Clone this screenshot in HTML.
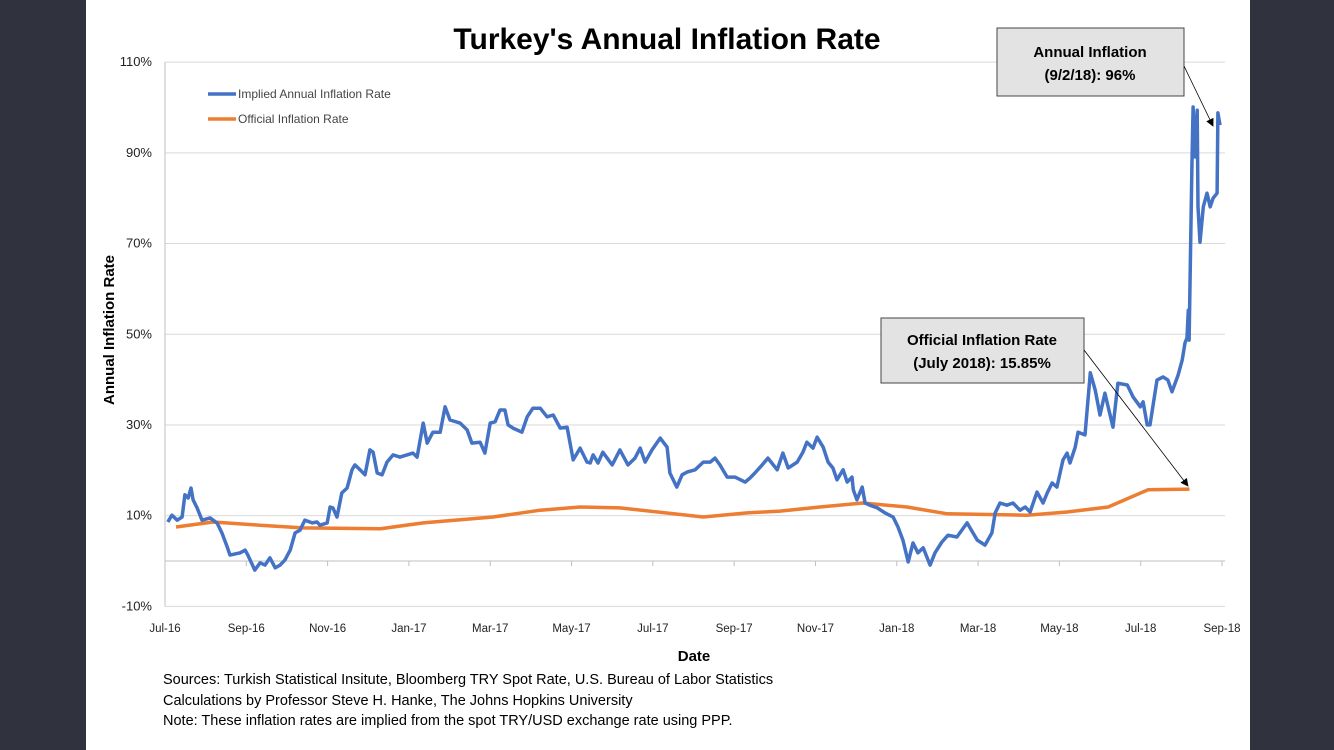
<!DOCTYPE html>
<html><head><meta charset="utf-8"><style>
html,body{margin:0;padding:0;background:#30323d;width:1334px;height:750px;overflow:hidden}
#panel{position:absolute;left:86px;top:0;width:1164px;height:750px;background:#fff}
svg{position:absolute;left:0;top:0}
text{font-family:"Liberation Sans",sans-serif}
</style></head><body>
<div id="panel"></div>
<svg id="chart" width="1334" height="750"></svg>
<script>
const xTickLabels=["Jul-16","Sep-16","Nov-16","Jan-17","Mar-17","May-17","Jul-17","Sep-17","Nov-17","Jan-18","Mar-18","May-18","Jul-18","Sep-18"];
const yTicks=[-10,10,30,50,70,90,110];
const impliedMonths=[0.07,0.17,0.30,0.42,0.49,0.57,0.64,0.69,0.79,0.91,1.11,1.28,1.40,1.53,1.60,1.85,1.97,2.04,2.21,2.34,2.46,2.58,2.71,2.83,2.95,3.08,3.20,3.32,3.44,3.62,3.74,3.81,3.99,4.06,4.13,4.23,4.35,4.48,4.60,4.67,4.80,4.92,5.04,5.12,5.22,5.34,5.46,5.61,5.78,5.95,6.10,6.20,6.35,6.45,6.59,6.77,6.89,7.01,7.26,7.43,7.55,7.75,7.87,8.00,8.12,8.24,8.36,8.44,8.56,8.78,8.91,9.05,9.23,9.40,9.55,9.72,9.89,10.04,10.21,10.38,10.46,10.53,10.65,10.77,11.00,11.19,11.39,11.56,11.69,11.81,11.98,12.18,12.35,12.42,12.59,12.72,12.84,13.04,13.24,13.41,13.53,13.65,13.83,14.02,14.27,14.39,14.51,14.69,14.83,15.06,15.20,15.33,15.55,15.69,15.79,15.94,16.04,16.19,16.31,16.43,16.53,16.68,16.78,16.90,16.93,17.02,17.15,17.22,17.34,17.52,17.71,17.91,18.03,18.15,18.28,18.40,18.52,18.65,18.82,18.94,19.11,19.26,19.48,19.73,19.98,20.17,20.34,20.42,20.54,20.71,20.86,21.03,21.16,21.28,21.45,21.60,21.70,21.82,21.94,22.09,22.19,22.26,22.39,22.46,22.63,22.76,22.88,23.00,23.12,23.32,23.44,23.67,23.81,23.99,24.06,24.16,24.23,24.40,24.55,24.67,24.77,24.92,25.02,25.09,25.14,25.17,25.19,25.26,25.29,25.34,25.39,25.41,25.46,25.54,25.63,25.71,25.78,25.88,25.90,25.95];
const impliedValues=[8.6,10.1,9.0,9.7,14.6,13.9,16.1,13.5,11.7,9.0,9.5,8.4,6.2,3.1,1.3,1.8,2.4,1.3,-2.0,-0.4,-0.9,0.7,-1.5,-0.9,0.2,2.4,6.2,6.8,9.0,8.4,8.6,7.9,8.4,11.9,11.7,9.7,15.0,16.1,20.1,21.2,20.1,19.0,24.5,24.0,19.4,19.0,21.8,23.4,22.9,23.4,23.8,22.9,30.4,26.0,28.4,28.4,34.0,31.1,30.4,28.9,26.0,26.2,23.8,30.4,30.7,33.3,33.3,30.0,29.3,28.4,31.8,33.7,33.7,31.8,32.2,29.3,29.5,22.3,24.9,21.8,21.6,23.4,21.6,24.0,21.2,24.5,21.2,22.7,24.9,21.8,24.5,27.1,25.1,19.4,16.3,19.0,19.6,20.1,21.8,21.8,22.7,21.2,18.5,18.5,17.4,18.3,19.4,21.2,22.7,20.1,23.8,20.5,21.8,24.0,26.2,24.9,27.3,25.1,21.8,20.5,17.9,20.1,17.4,18.5,15.7,13.5,16.3,12.8,12.3,11.7,10.6,9.7,7.5,4.6,-0.2,4.0,1.8,2.9,-0.9,1.8,4.2,5.7,5.3,8.4,4.6,3.5,6.2,10.6,12.8,12.3,12.8,11.2,11.9,10.8,15.2,12.8,15.0,17.2,16.3,22.3,23.8,21.6,25.1,28.4,27.8,41.5,37.7,32.2,37.0,29.5,39.2,38.8,36.2,34.0,35.1,30.0,30.0,39.9,40.6,39.9,37.3,41.0,44.3,48.1,49.2,55.3,48.7,86.9,100.1,89.1,99.4,78.1,70.3,78.1,81.1,78.1,80.0,81.1,98.8,96.1,96.1];
const officialMonths=[0.27,1.18,2.34,3.39,5.29,6.35,8.07,9.23,10.21,11.19,13.24,14.32,15.13,16.11,17.17,18.25,19.24,21.2,22.19,23.2,24.18,25.2];
const officialValues=[7.5,8.6,7.9,7.3,7.1,8.4,9.7,11.2,11.9,11.7,9.7,10.6,11.0,11.9,12.8,11.9,10.4,10.1,10.8,11.9,15.7,15.85];

const NS="http://www.w3.org/2000/svg";
const svg=document.getElementById('chart');
const X0=165,X1=1222,M0=0,M1=26,Y0=561,PPU=4.535;
const xs=m=>X0+(m-M0)/(M1-M0)*(X1-X0);
const ys=v=>Y0-v*PPU;
function el(tag,attrs,txt){const e=document.createElementNS(NS,tag);for(const k in attrs)e.setAttribute(k,attrs[k]);if(txt!==undefined)e.textContent=txt;svg.appendChild(e);return e;}
yTicks.forEach(v=>{
 const g=el('line',{x1:X0,x2:1225,y1:ys(v),y2:ys(v),stroke:'#d9d9d9','stroke-width':1});
 
 
 const t=el('text',{x:152,y:ys(v)+4,'text-anchor':'end','font-size':13,fill:'#222'},v+'%');
 
 
});
const ya=el('line',{x1:X0,x2:X0,y1:ys(110),y2:ys(-10),stroke:'#bfbfbf','stroke-width':1});


const xa=el('line',{x1:X0,x2:1225,y1:Y0,y2:Y0,stroke:'#bfbfbf','stroke-width':1});


xTickLabels.forEach((l,i)=>{
 const x=xs(i*2);
 const tk=el('line',{x1:x,x2:x,y1:Y0,y2:Y0+5,stroke:'#bfbfbf'});
 
 
 const t=el('text',{x:x,y:632,'text-anchor':'middle','font-size':11.5,fill:'#222'},l);
 
 
});
function line(ms,vs,color,name){
 const d=ms.map((m,i)=>(i?'L':'M')+xs(m).toFixed(1)+','+ys(vs[i]).toFixed(1)).join('');
 const p=el('path',{d:d,fill:'none',stroke:color,'stroke-width':3.5,'stroke-linejoin':'round'});
 
 
}
line(officialMonths,officialValues,'#ed7d31','official-inflation-line');
line(impliedMonths,impliedValues,'#4472c4','implied-inflation-line');
</script>
<svg width="1334" height="750" style="pointer-events:none">
<defs><marker id="ah" markerWidth="10" markerHeight="10" refX="9" refY="5" orient="auto"><path d="M0,0L10,5L0,10z" fill="#000"/></marker></defs>
<text x="667" y="49" text-anchor="middle" font-size="30" font-weight="bold" fill="#000" font-family="Liberation Sans,sans-serif">Turkey's Annual Inflation Rate</text>
<line x1="208" y1="94" x2="236" y2="94" stroke="#4472c4" stroke-width="3.5"/>
<text x="238" y="98" font-size="12" fill="#444">Implied Annual Inflation Rate</text>
<line x1="208" y1="119" x2="236" y2="119" stroke="#ed7d31" stroke-width="3.5"/>
<text x="238" y="123" font-size="12" fill="#444">Official Inflation Rate</text>
<text transform="translate(114,330) rotate(-90)" text-anchor="middle" font-size="15" font-weight="bold" fill="#000">Annual Inflation Rate</text>
<text x="694" y="661" text-anchor="middle" font-size="15" font-weight="bold" fill="#000">Date</text>
<g font-size="14.5" fill="#000">
<text x="163" y="684">Sources: Turkish Statistical Insitute, Bloomberg TRY Spot Rate, U.S. Bureau of Labor Statistics</text>
<text x="163" y="705">Calculations by Professor Steve H. Hanke, The Johns Hopkins University</text>
<text x="163" y="725">Note: These inflation rates are implied from the spot TRY/USD exchange rate using PPP.</text>
</g>
<rect x="997" y="28" width="187" height="68" fill="#e3e3e3" stroke="#444" stroke-width="1"/>
<text x="1090" y="57" text-anchor="middle" font-size="15" font-weight="bold">Annual Inflation</text>
<text x="1090" y="80" text-anchor="middle" font-size="15" font-weight="bold">(9/2/18): 96%</text>
<line x1="1184" y1="66" x2="1213" y2="126" stroke="#000" stroke-width="0.8" marker-end="url(#ah)"/>
<rect x="881" y="318" width="203" height="65" fill="#e3e3e3" stroke="#444" stroke-width="1"/>
<text x="982" y="345" text-anchor="middle" font-size="15" font-weight="bold">Official Inflation Rate</text>
<text x="982" y="368" text-anchor="middle" font-size="15" font-weight="bold">(July 2018): 15.85%</text>
<line x1="1084" y1="350" x2="1188" y2="486" stroke="#000" stroke-width="0.8" marker-end="url(#ah)"/>
</svg>
</body></html>
